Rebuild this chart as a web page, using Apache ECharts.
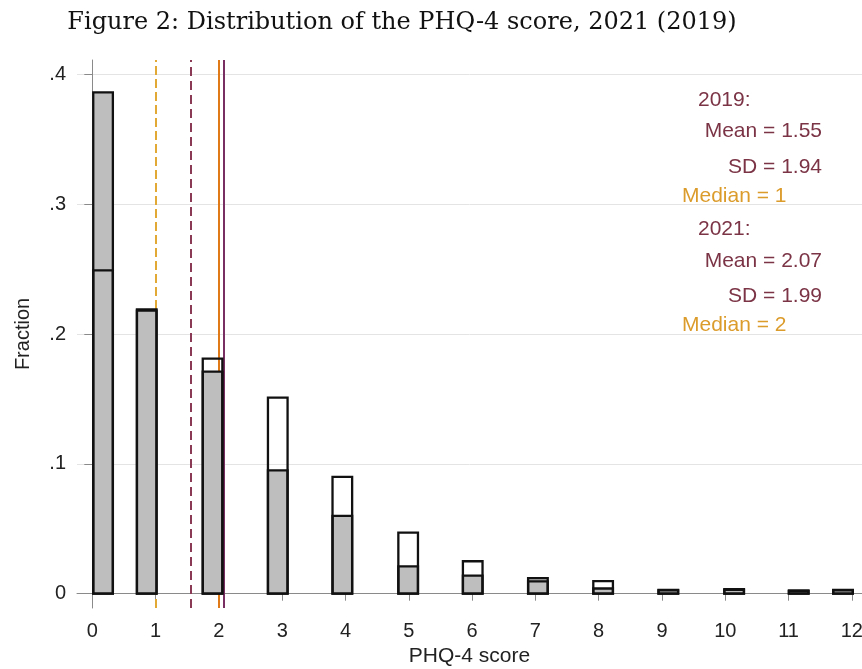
<!DOCTYPE html>
<html>
<head>
<meta charset="utf-8">
<script src="https://cdn.jsdelivr.net/npm/echarts@6/dist/echarts.min.js"></script>
<style>
  html, body { margin: 0; padding: 0; background: #fff; }
  #chartData { width: 862px; height: 669px; }
</style>
</head>
<body>
<div id="chartData"></div>
<script>
// PHQ-4 score bins (x position of each bar as drawn) and fractions
var binX      = [0.17, 0.86, 1.90, 2.93, 3.95, 4.99, 6.01, 7.04, 8.07, 9.10, 10.14, 11.16, 11.86];
var frac2019  = [0.386, 0.219, 0.171, 0.095, 0.060, 0.021, 0.014, 0.012, 0.004, 0.0025, 0.003, 0.002, 0.0025];
var frac2021  = [0.249, 0.218, 0.181, 0.151, 0.090, 0.047, 0.025, 0.0095, 0.0097, 0.003, 0.0035, 0.0025, 0.003];

// summary stats (vertical lines)
var mean2019 = 1.55, median2019 = 1;
var mean2021 = 2.07, median2021 = 2;

var xTicks = [0, 1, 2, 3, 4, 5, 6, 7, 8, 9, 10, 11, 12];
var yTicks = [0, 0.1, 0.2, 0.3, 0.4];

var font = 'Liberation Sans, Arial, sans-serif';
var maroon = '#7b3446';
var gold = '#dc9c2c';

function pairs(xs, ys) {
    var out = [];
    for (var i = 0; i < xs.length; i++) out.push([xs[i], ys[i]]);
    return out;
}

// histogram bar drawn through the axes
function barRenderer(fill) {
    return function (params, api) {
        var x = api.value(0), v = api.value(1);
        var base = api.coord([x, 0]);
        var top = api.coord([x, v]);
        var w = api.size([0.31, 0])[0];
        return {
            type: 'rect',
            shape: { x: base[0] - w / 2, y: top[1], width: w, height: base[1] - top[1] },
            style: { fill: fill, stroke: '#111', lineWidth: 2.3 }
        };
    };
}

var myChart = echarts.init(document.getElementById('chartData'), null, { renderer: 'canvas' });

var option = {
    backgroundColor: '#fff',
    animation: false,
    grid: { left: 77, right: 0, top: 60, bottom: 61, outerBoundsMode: 'none', containLabel: false },
    xAxis: {
        type: 'value',
        min: -0.2417,
        max: 12.16,
        name: 'PHQ-4 score',
        nameLocation: 'middle',
        nameGap: 38,
        nameMoveOverlap: false,
        nameTextStyle: { fontFamily: font, fontSize: 21, color: '#222' },
        axisLine: { show: true, lineStyle: { color: '#8a8a8a', width: 1 } },
        axisTick: { show: true, length: 7, customValues: xTicks, lineStyle: { color: '#8a8a8a' } },
        axisLabel: { customValues: xTicks, fontFamily: font, fontSize: 20, color: '#222', margin: 13 },
        splitLine: { show: false }
    },
    yAxis: {
        type: 'value',
        min: -0.011,
        max: 0.411,
        name: 'Fraction',
        nameLocation: 'middle',
        nameGap: 44,
        nameMoveOverlap: false,
        nameTextStyle: { fontFamily: font, fontSize: 20, color: '#222' },
        axisLine: { show: true, lineStyle: { color: '#8a8a8a', width: 1 } },
        axisTick: { show: true, length: 8, customValues: yTicks, lineStyle: { color: '#8a8a8a' } },
        axisLabel: {
            customValues: yTicks,
            fontFamily: font, fontSize: 20, color: '#222', margin: 11,
            formatter: function (v) { return v === 0 ? '0' : String(+v.toFixed(1)).replace('0.', '.'); }
        },
        splitLine: { show: true, lineStyle: { color: '#e4e4e4', width: 1 } }
    },
    series: [
        {
            // mean / median reference lines (under the bars)
            type: 'line',
            data: [],
            z: 1,
            markLine: {
                z: 1,
                silent: true,
                symbol: ['none', 'none'],
                label: { show: false },
                data: [
                    { xAxis: median2019, lineStyle: { color: '#e2aa34', width: 2, type: [9, 4] } },
                    { xAxis: mean2019, lineStyle: { color: '#8a3a55', width: 2, type: [9, 5] } },
                    { xAxis: median2021, lineStyle: { color: '#e07a18', width: 2, type: 'solid' } },
                    { xAxis: mean2021, lineStyle: { color: '#7a2f62', width: 2, type: 'solid' } }
                ]
            }
        },
        {
            name: '2019',
            type: 'custom',
            z: 6,
            renderItem: barRenderer('#bebebe'),
            encode: { x: 0, y: 1 },
            data: pairs(binX, frac2019)
        },
        {
            name: '2021',
            type: 'custom',
            z: 7,
            renderItem: barRenderer('rgba(0,0,0,0)'),
            encode: { x: 0, y: 1 },
            data: pairs(binX, frac2021)
        }
    ],
    graphic: [
        { type: 'text', x: 402, y: 23, style: { text: 'Figure 2: Distribution of the PHQ-4 score, 2021 (2019)', font: '24px "DejaVu Serif", serif', fill: '#111', textAlign: 'center', textVerticalAlign: 'middle' } },
        { type: 'text', x: 698, y: 100, style: { text: '2019:', font: '21px ' + font, fill: maroon, textAlign: 'left', textVerticalAlign: 'middle' } },
        { type: 'text', x: 822, y: 131, style: { text: 'Mean = 1.55', font: '21px ' + font, fill: maroon, textAlign: 'right', textVerticalAlign: 'middle' } },
        { type: 'text', x: 822, y: 167, style: { text: 'SD = 1.94', font: '21px ' + font, fill: maroon, textAlign: 'right', textVerticalAlign: 'middle' } },
        { type: 'text', x: 682, y: 196, style: { text: 'Median = 1', font: '21px ' + font, fill: gold, textAlign: 'left', textVerticalAlign: 'middle' } },
        { type: 'text', x: 698, y: 229, style: { text: '2021:', font: '21px ' + font, fill: maroon, textAlign: 'left', textVerticalAlign: 'middle' } },
        { type: 'text', x: 822, y: 261, style: { text: 'Mean = 2.07', font: '21px ' + font, fill: maroon, textAlign: 'right', textVerticalAlign: 'middle' } },
        { type: 'text', x: 822, y: 296, style: { text: 'SD = 1.99', font: '21px ' + font, fill: maroon, textAlign: 'right', textVerticalAlign: 'middle' } },
        { type: 'text', x: 682, y: 325, style: { text: 'Median = 2', font: '21px ' + font, fill: gold, textAlign: 'left', textVerticalAlign: 'middle' } }
    ]
};

myChart.setOption(option);
</script>
</body>
</html>
